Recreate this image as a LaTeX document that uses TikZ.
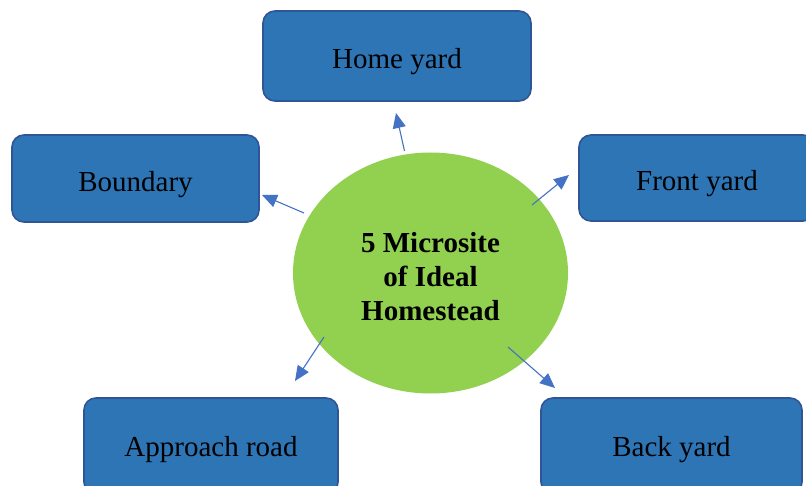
\documentclass[tikz,border=0pt]{standalone}
\usepackage{fontspec}
\setmainfont{Liberation Serif}
\usetikzlibrary{arrows.meta,shapes.geometric}
\definecolor{boxfill}{HTML}{2E75B6}
\definecolor{boxline}{HTML}{2F5597}
\definecolor{hubfill}{HTML}{92D050}
\definecolor{arrowc}{HTML}{4472C4}
\tikzset{
  sitebox/.style={rectangle, rounded corners=12pt, draw=boxline, line width=1.6pt,
    fill=boxfill, inner sep=0pt},
  sitelabel/.style={inner sep=0pt, font=\fontsize{29}{34}\selectfont, text=black},
  link/.style={draw=arrowc, line width=1.1pt, -{Triangle[length=15pt,width=13pt]}}
}
\begin{document}
\begin{tikzpicture}[x=1pt, y=-1pt]
  \clip (0,0) rectangle (806,486);
  \fill[white] (0,0) rectangle (806,486);

  % centre ellipse
  \node[ellipse, fill=hubfill, minimum width=275pt, minimum height=241pt,
        inner sep=0pt] (hub) at (430.5,273) {};
  \node[align=center, inner sep=0pt, font=\bfseries\fontsize{29}{34}\selectfont]
        (hubtext) at (430.5,277) {5 Microsite\\of Ideal\\Homestead};

  % surrounding boxes (labels set a little below centre)
  \node[sitebox, minimum width=268pt, minimum height=90pt] (home) at (397,56) {};
  \node[sitelabel] (homet) at (397,62) {Home yard};
  \node[sitebox, minimum width=236pt, minimum height=86pt] (front) at (697,178) {};
  \node[sitelabel] (frontt) at (697,184) {Front yard};
  \node[sitebox, minimum width=247pt, minimum height=87pt] (bound) at (135.5,178.5) {};
  \node[sitelabel] (boundt) at (135.5,185) {Boundary};
  \node[sitebox, minimum width=254pt, minimum height=96pt] (road) at (211,446) {};
  \node[sitelabel] (roadt) at (211,450) {Approach road};
  \node[sitebox, minimum width=261pt, minimum height=96pt] (back) at (671.5,446) {};
  \node[sitelabel] (backt) at (671.5,450) {Back yard};

  % arrow end points
  \coordinate (hs) at (404.5,151);  \coordinate (ht) at (396,113);
  \coordinate (fs) at (532,205);    \coordinate (ft) at (569,175);
  \coordinate (bs) at (304,213);    \coordinate (bt) at (262,195);
  \coordinate (rs) at (324,337);    \coordinate (rt) at (295,381);
  \coordinate (ks) at (508,347);    \coordinate (kt) at (555,388);

  \draw[link] (hs) -- (ht);
  \draw[link] (fs) -- (ft);
  \draw[link] (bs) -- (bt);
  \draw[link] (rs) -- (rt);
  \draw[link] (ks) -- (kt);
\end{tikzpicture}
\end{document}
